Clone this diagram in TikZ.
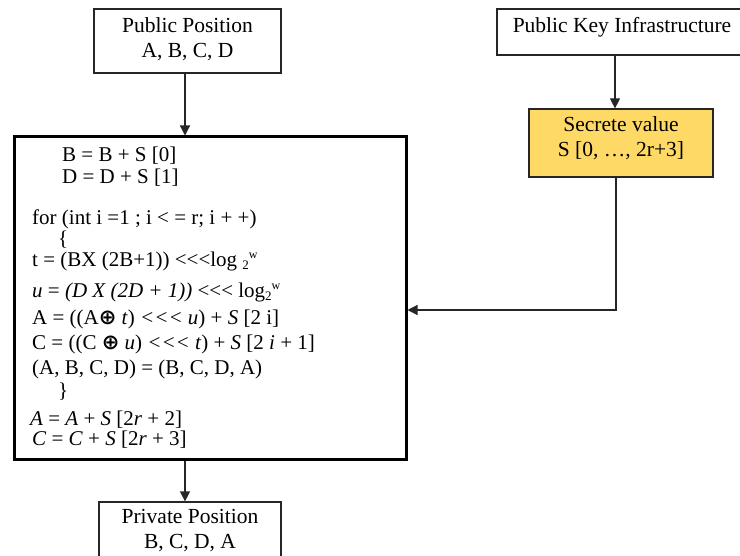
\documentclass[tikz,border=0pt]{standalone}
\usepackage{fontspec}
\setmainfont{Liberation Serif}
\newfontfamily\symfont{DejaVu Sans}
\usetikzlibrary{arrows.meta}
\definecolor{gold}{HTML}{FFD966}
\newcommand{\lgw}{log\raisebox{-3pt}{\fontsize{13}{13}\selectfont 2}\raisebox{8pt}{\fontsize{12}{12}\selectfont w}}
\newcommand{\xo}{{\symfont\bfseries ⊕}}
\newcommand{\shl}{<{}<{}<}
\begin{document}
\begin{tikzpicture}[x=1pt,y=-1pt,
  box/.style={draw=black!85, line width=1.2pt, align=center, inner sep=0pt,
    font=\fontsize{21.5}{25}\selectfont},
  arr/.style={draw=black!85, line width=1.2pt, -{Triangle[length=10pt,width=10pt]}},
  code/.style={anchor=base west, inner sep=0pt, font=\fontsize{21}{25}\selectfont}]
\useasboundingbox (0,0) rectangle (740,556);
\fill[white] (0,0) rectangle (740,556);

\node[box, minimum width=187, minimum height=64] (pub) at (187.5,41)
  {Public Position\\A, B, C, D\rule[-7pt]{0pt}{0pt}};
\node[box, minimum width=250, minimum height=46] (pki) at (622,32)
  {Public Key Infrastructure\rule[-15pt]{0pt}{0pt}};
\node[box, fill=gold, minimum width=184, minimum height=68] (sec) at (621,143)
  {Secrete value\\S [0, …, 2r+3]\rule[-12pt]{0pt}{0pt}};
\node[draw=black, line width=3pt, minimum width=392, minimum height=322, inner sep=0pt] (main) at (210,298) {};
\node[box, minimum width=182, minimum height=58] (priv) at (190,531)
  {Private Position\\B, C, D, A};

\node[code] (l1) at (62,162) {B = B + S [0]};
\node[code] (l2) at (62,184) {D = D + S [1]};
\node[code] (l3) at (32,225) {for (int i =1 ; i < = r; i + +)};
\node[code] (l4) at (58,246) {\{};
\node[code] (l5) at (32,267) {t = (BX (2B+1)) \shl log \raisebox{-3pt}{\fontsize{13}{13}\selectfont 2}\raisebox{8pt}{\fontsize{12}{12}\selectfont w}};
\node[code] (l6) at (32,298) {\textit{u} = \textit{(D X (2D + 1))} \shl\ \lgw};
\node[code] (l7) at (32,325) {A = ((A\xo\ \textit{t}) \textit{\shl\ u}) + \textit{S} [2 i]};
\node[code] (l8) at (32,350) {C = ((C \xo\ \textit{u}) \textit{\shl\ t}) + \textit{S} [2 \textit{i} + 1]};
\node[code] (l9) at (32,375) {(A, B, C, D) = (B, C, D, A)};
\node[code] (l10) at (58,398) {\}};
\node[code] (l11) at (30,426) {\textit{A} = \textit{A} + \textit{S} [2\textit{r} + 2]};
\node[code] (l12) at (32,446) {\textit{C} = \textit{C} + \textit{S} [2\textit{r} + 3]};

\draw[arr] ([xshift=-2.5pt]pub.south) -- ([xshift=-2.5pt]pub.south |- main.north);
\draw[arr] ([xshift=-7pt]pki.south) -- ([xshift=-7pt]pki.south |- sec.north);
\draw[arr] ([xshift=-5pt]sec.south) |- ([yshift=-12pt]main.east);
\draw[arr] ([xshift=-2.5pt]main.south -| pub.south) -- ([xshift=-2.5pt]priv.north -| pub.south);
\end{tikzpicture}
\end{document}
